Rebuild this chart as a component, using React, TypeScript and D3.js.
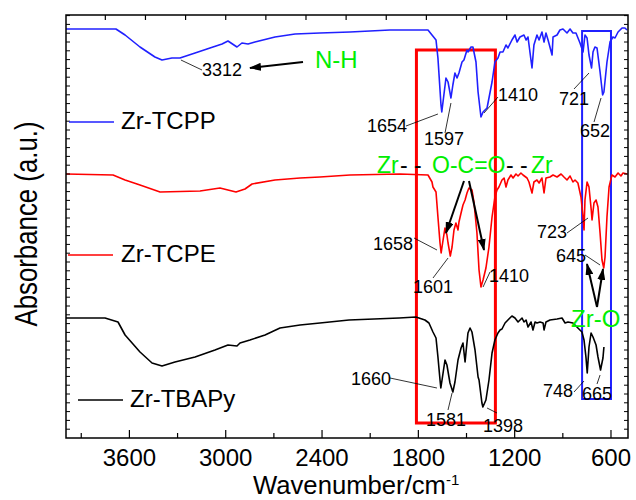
import React from "react";
import { scaleLinear, line, range } from "d3";

// wavenumber (cm-1) vs absorbance, arbitrary units (curves offset for display)
const xTicks = [3600, 3000, 2400, 1800, 1200, 600];
const xMinorTicks = [3900, 3300, 2700, 2100, 1500, 900];
const xTopTicks = range(3750, 700, -250);

const tcpp: [number, number][] = [
  [3995, 409], [3684, 409], [3627, 403], [3534, 391], [3441, 381], [3397, 378], [3335, 380], [3285, 380],
  [3191, 385], [3098, 390], [3023, 394], [2986, 397], [2930, 391], [2899, 395], [2861, 394], [2818, 396],
  [2693, 401], [2568, 404], [2413, 405], [2226, 406], [1977, 408], [1740, 408], [1715, 403], [1690, 398],
  [1678, 380], [1659, 333], [1654, 326], [1628, 360], [1615, 356], [1597, 340], [1585, 353], [1572, 365],
  [1559, 360], [1547, 365], [1528, 376], [1516, 378], [1497, 388], [1491, 386], [1472, 391], [1460, 391],
  [1441, 376], [1428, 346], [1410, 321], [1397, 326], [1372, 330], [1341, 356], [1323, 376], [1304, 380],
  [1291, 386], [1273, 386], [1254, 393], [1242, 390], [1217, 398], [1198, 403], [1185, 396], [1167, 401],
  [1142, 403], [1129, 398], [1117, 401], [1092, 370], [1080, 393], [1061, 403], [1048, 398], [1030, 406],
  [1017, 396], [1005, 405], [992, 398], [967, 383], [961, 401], [936, 403], [918, 408], [899, 409],
  [874, 405], [855, 409], [837, 405], [818, 405], [793, 395], [774, 386], [762, 403], [749, 400],
  [737, 383], [721, 370], [712, 386], [700, 391], [687, 390], [668, 366], [652, 343], [644, 346],
  [625, 376], [606, 396], [588, 401], [575, 400], [556, 406], [531, 410], [513, 410], [500, 408],
];

const tcpe: [number, number][] = [
  [3995, 264], [3702, 263], [3627, 258], [3534, 253], [3409, 246], [3160, 247], [3036, 250], [2986, 248],
  [2936, 246], [2880, 249], [2836, 254], [2693, 258], [2537, 260], [2413, 261], [2226, 263], [1914, 264],
  [1740, 263], [1715, 256], [1709, 251], [1690, 246], [1678, 221], [1665, 195], [1658, 185], [1646, 198],
  [1634, 210], [1622, 203], [1615, 195], [1601, 182], [1590, 191], [1578, 208], [1566, 215], [1553, 208],
  [1547, 216], [1534, 225], [1522, 233], [1509, 238], [1497, 245], [1485, 250], [1466, 248], [1453, 235],
  [1435, 205], [1422, 168], [1410, 151], [1397, 158], [1379, 170], [1360, 191], [1341, 221], [1323, 241],
  [1310, 248], [1298, 251], [1279, 258], [1266, 260], [1254, 251], [1242, 258], [1223, 263], [1210, 260],
  [1192, 264], [1179, 262], [1161, 265], [1148, 263], [1123, 260], [1111, 256], [1092, 245], [1080, 256],
  [1061, 258], [1048, 255], [1030, 260], [1017, 245], [1005, 260], [980, 261], [961, 263], [936, 261],
  [911, 264], [893, 261], [874, 258], [855, 262], [837, 256], [824, 258], [806, 255], [787, 241],
  [774, 221], [768, 208], [762, 238], [749, 256], [737, 251], [723, 228], [718, 218], [706, 235],
  [693, 238], [681, 231], [668, 205], [656, 178], [645, 170], [637, 181], [625, 221], [612, 251],
  [594, 263], [575, 261], [556, 265], [538, 262], [525, 265], [500, 264],
];

const tbapy: [number, number][] = [
  [3995, 120], [3752, 120], [3671, 116], [3627, 103], [3534, 86], [3459, 75], [3397, 72], [3316, 76],
  [3191, 81], [3067, 88], [2986, 93], [2930, 92], [2911, 95], [2849, 98], [2755, 103], [2662, 110],
  [2537, 113], [2413, 115], [2232, 118], [1920, 120], [1815, 121], [1759, 118], [1734, 115], [1709, 106],
  [1690, 100], [1678, 81], [1665, 58], [1660, 50], [1646, 65], [1634, 78], [1622, 73], [1603, 55],
  [1585, 46], [1572, 56], [1553, 78], [1534, 90], [1522, 95], [1509, 76], [1503, 86], [1491, 105],
  [1478, 110], [1466, 106], [1447, 88], [1428, 61], [1422, 58], [1404, 35], [1398, 31], [1379, 38],
  [1360, 58], [1341, 85], [1323, 98], [1304, 105], [1291, 108], [1279, 109], [1260, 115], [1242, 118],
  [1217, 122], [1198, 120], [1179, 116], [1154, 120], [1142, 116], [1129, 118], [1117, 111], [1098, 116],
  [1086, 108], [1073, 116], [1061, 115], [1042, 116], [1023, 115], [1017, 108], [1005, 116], [980, 118],
  [936, 119], [905, 120], [886, 115], [868, 116], [837, 115], [806, 110], [781, 106], [768, 98],
  [756, 81], [748, 65], [737, 91], [724, 105], [712, 101], [693, 93], [681, 81], [665, 68],
  [650, 80], [644, 91],
];

const seriesNames = ["Zr-TCPP", "Zr-TCPE", "Zr-TBAPy"];
const seriesColors = ["#2020ff", "#ff0000", "#000000"];
const seriesData = [tcpp, tcpe, tbapy];

// peak labels: text, text anchor (px), leader start (px), leader end on curve [wn, value]
const peakLabels = [
  { t: "3312", tx: 202, ty: 76, from: [202, 70], to: [3279, 378] },
  { t: "1654", tx: 367, ty: 132, from: [406, 126], to: [1678, 324] },
  { t: "1597", tx: 424, ty: 145, from: [445, 133], to: [1597, 335] },
  { t: "1410", tx: 498, ty: 101, from: [498, 97], to: [1391, 325] },
  { t: "721", tx: 559, ty: 105, from: [574, 89], to: [737, 365] },
  { t: "652", tx: 580, ty: 137, from: [594, 122], to: [662, 340] },
  { t: "1658", tx: 373, ty: 250, from: [414, 238], to: [1684, 188] },
  { t: "1601", tx: 413, ty: 293, from: [433, 278], to: [1615, 180] },
  { t: "1410", tx: 489, ty: 282, from: [490, 272], to: [1397, 151] },
  { t: "723", tx: 537, ty: 238, from: [567, 233], to: [743, 220] },
  { t: "645", tx: 556, ty: 262, from: [585, 255], to: [668, 173] },
  { t: "1660", tx: 351, ty: 385, from: [390, 378], to: [1684, 50] },
  { t: "1581", tx: 426, ty: 426, from: [448, 410], to: [1590, 45] },
  { t: "1398", tx: 483, ty: 432, from: [497, 413], to: [1372, 30] },
  { t: "748", tx: 543, ty: 397, from: [574, 392], to: [768, 57] },
  { t: "665", tx: 582, ty: 400, from: [597, 384], to: [668, 63] },
];

const FONT = "'Liberation Sans', Arial, Helvetica, sans-serif";
const GREEN = "#00ee00";

const App: React.FC = () => {
  const left = 66, right = 628, top = 15, bottom = 438;
  const x = scaleLinear().domain([3995, 494]).range([left, right]);
  const y = scaleLinear().domain([0, 423]).range([bottom, top]);
  const path = line<[number, number]>()
    .x((d) => x(d[0]))
    .y((d) => y(d[1]));
  const yTicks = range(8.8, 423, 8.8);

  const legendPos = [
    { y: 316, x0: 69, x1: 114, tx: 121, dy: 7 },
    { y: 183, x0: 68, x1: 113, tx: 121, dy: 7 },
    { y: 38, x0: 78, x1: 123, tx: 130, dy: 7 },
  ];

  const arrows = [
    [303, 62, 250, 68],
    [464, 181, 446, 233],
    [469, 181, 484, 250],
    [597, 307, 587, 264],
    [597, 307, 603, 269],
  ];

  return (
    <svg width={636} height={500} style={{ position: "absolute", left: 0, top: 0, background: "#fff" }} fontFamily={FONT}>
      <defs>
        <marker id="ah" markerUnits="userSpaceOnUse" markerWidth={12} markerHeight={8} refX={11} refY={4} orient="auto">
          <path d="M0,0 L12,4 L0,8 Z" fill="#000" />
        </marker>
      </defs>

      {/* boxes */}
      <rect x={x(1812)} y={y(388)} width={x(1320) - x(1812)} height={y(15) - y(388)} fill="none" stroke="#ff0000" strokeWidth={3} />
      <rect x={x(780)} y={y(407)} width={x(600) - x(780)} height={y(39) - y(407)} fill="none" stroke="#2020ff" strokeWidth={2} />

      {/* spectra */}
      {seriesData.map((d, i) => (
        <path key={seriesNames[i]} d={path(d) || ""} fill="none" stroke={seriesColors[i]} strokeWidth={1.6} strokeLinejoin="round" />
      ))}

      {/* frame + ticks */}
      <rect x={left} y={top} width={right - left} height={bottom - top} fill="none" stroke="#000" strokeWidth={1.5} />
      {xTicks.map((t) => (
        <g key={t}>
          <line x1={x(t)} x2={x(t)} y1={bottom} y2={bottom - 8} stroke="#000" strokeWidth={1.2} />
          <text x={x(t)} y={466} fontSize={24} textAnchor="middle">{t}</text>
        </g>
      ))}
      {xMinorTicks.map((t) => (
        <line key={t} x1={x(t)} x2={x(t)} y1={bottom} y2={bottom - 5} stroke="#000" strokeWidth={1.2} />
      ))}
      {xTopTicks.map((t) => (
        <line key={t} x1={x(t)} x2={x(t)} y1={top} y2={top + 5} stroke="#000" strokeWidth={1.2} />
      ))}
      {yTicks.map((t) => (
        <g key={t}>
          <line x1={left} x2={left + 4} y1={y(t)} y2={y(t)} stroke="#000" strokeWidth={1} />
          <line x1={right} x2={right - 4} y1={y(t)} y2={y(t)} stroke="#000" strokeWidth={1} />
        </g>
      ))}

      {/* axis titles */}
      <text x={253} y={494} fontSize={25} textLength={193} lengthAdjust="spacingAndGlyphs">Wavenumber/cm</text>
      <text x={446} y={485} fontSize={15}>-1</text>
      <text transform="translate(37,224) rotate(-90)" fontSize={31} textAnchor="middle" textLength={205} lengthAdjust="spacingAndGlyphs">
        Absorbance (a.u.)
      </text>

      {/* legend labels */}
      {seriesNames.map((n, i) => (
        <g key={n}>
          <line x1={legendPos[i].x0} x2={legendPos[i].x1} y1={y(legendPos[i].y)} y2={y(legendPos[i].y)} stroke={seriesColors[i]} strokeWidth={1.6} />
          <text x={legendPos[i].tx} y={y(legendPos[i].y) + legendPos[i].dy} fontSize={24}>{n}</text>
        </g>
      ))}

      {/* peak labels */}
      {peakLabels.map((p, i) => (
        <g key={i}>
          <line x1={p.from[0]} y1={p.from[1]} x2={x(p.to[0])} y2={y(p.to[1])} stroke="#000" strokeWidth={0.8} />
          <text x={p.tx} y={p.ty} fontSize={18}>{p.t}</text>
        </g>
      ))}

      {/* arrows */}
      {arrows.map((a, i) => (
        <line key={i} x1={a[0]} y1={a[1]} x2={a[2]} y2={a[3]} stroke="#000" strokeWidth={2} markerEnd="url(#ah)" />
      ))}

      {/* group labels */}
      <text x={315} y={68} fontSize={24} fill={GREEN}>N-H</text>
      <text x={377} y={173} fontSize={23} fill={GREEN}>Zr</text>
      <text x={400} y={173} fontSize={23} fill="#000">- -</text>
      <text x={432} y={173} fontSize={23} fill={GREEN}>O-C=O</text>
      <text x={506} y={173} fontSize={23} fill="#000">- -</text>
      <text x={531} y={173} fontSize={23} fill={GREEN}>Zr</text>
      <text x={571} y={327} fontSize={24} fill={GREEN}>Zr-O</text>
    </svg>
  );
};

export default App;
